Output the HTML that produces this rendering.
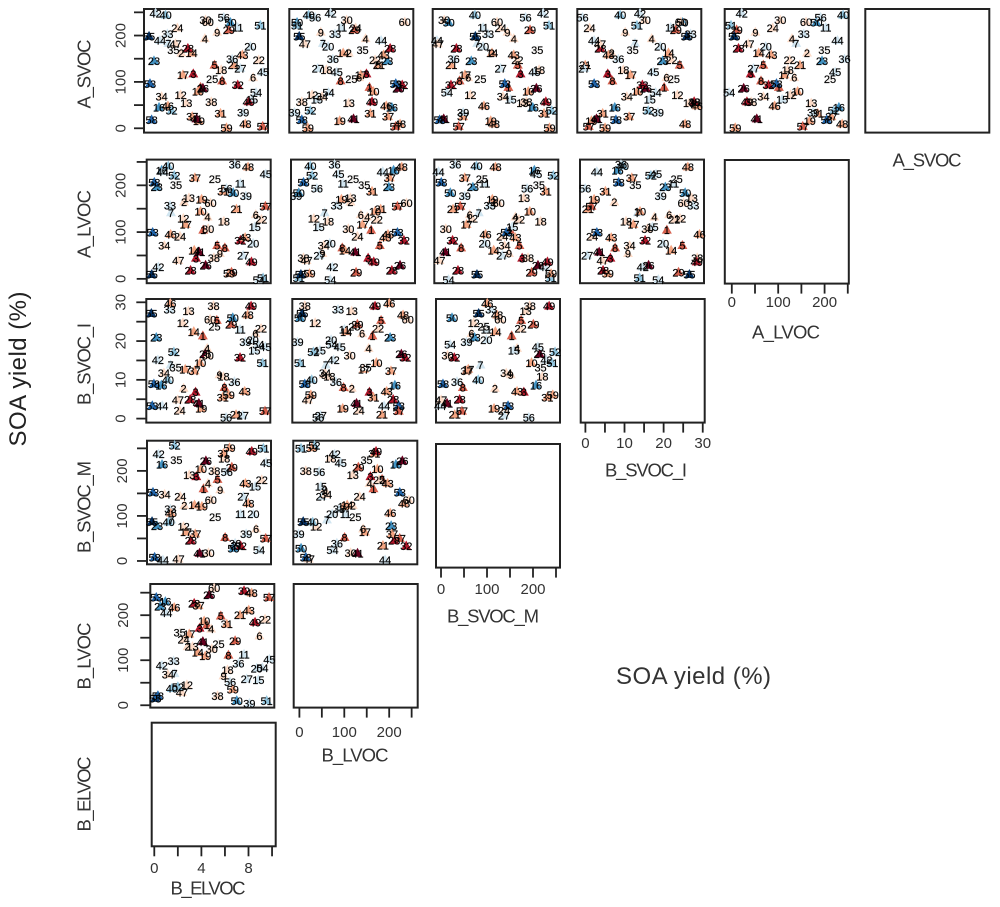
<!DOCTYPE html>
<html lang="en">
<head>
<meta charset="utf-8">
<title>SOA yield scatterplot matrix</title>
<style>
  html, body { margin: 0; padding: 0; background: #fff; width: 1000px; height: 907px; overflow: hidden; }
  svg { display: block; font-family: "Liberation Sans", sans-serif; }
</style>
</head>
<body>
<svg id="chart" xmlns="http://www.w3.org/2000/svg" width="1000" height="907" viewBox="0 0 1000 907">
  <text transform="translate(26,369) rotate(-90)" text-anchor="middle" font-size="24" fill="#222" textLength="155" lengthAdjust="spacing">SOA yield (%)</text>
  <text x="693.5" y="684" text-anchor="middle" font-size="24" fill="#333" textLength="155" lengthAdjust="spacing">SOA yield (%)</text>
</svg>
<script>
// Values, index 0 = point 1 ... index 59 = point 60
const pointIds = [1,2,3,4,5,6,7,8,9,10,11,12,13,14,15,16,17,18,19,20,21,22,23,24,25,26,27,28,29,30,31,32,33,34,35,36,37,38,39,40,41,42,43,44,45,46,47,48,49,50,51,52,53,54,55,56,57,58,59,60];
const A_SVOC = [88,162,117,193,136,109,183,102,207,79,217,72,54,162,62,45,115,126,16,176,136,147,145,216,106,86,129,172,212,233,32,93,203,68,169,149,25,57,34,244,20,248,158,189,121,48,182,9,57,228,222,38,96,77,198,239,4,18,1,229];
const A_LVOC = [104,164,44,132,71,137,141,66,54,144,204,129,173,61,111,232,116,123,170,76,149,127,196,91,213,29,50,18,14,107,187,82,157,71,201,244,216,45,177,241,57,25,88,229,224,95,39,239,36,184,2,221,99,-2,9,193,155,206,11,162];
const B_SVOC_I = [21.3,7.8,6.8,18.1,25.3,21.9,13.8,8.0,11.3,14.4,23.0,24.7,27.7,22.4,17.6,8.6,12.7,10.8,2.6,20.3,1.0,23.2,20.9,2.1,23.8,16.6,0.8,4.9,24.3,16.3,5.5,15.7,28.1,11.7,13.2,9.5,12.3,29.1,19.7,10.0,3.9,15.1,7.0,3.3,18.5,29.7,4.8,26.7,29.0,26.0,14.3,17.2,3.3,19.1,27.1,0.3,1.9,8.9,6.1,25.6];
const B_SVOC_M = [160,123,187,172,181,71,91,52,158,204,104,76,191,124,165,214,64,228,121,104,34,180,78,143,98,222,143,45,208,18,239,33,115,148,224,39,60,200,60,86,17,237,172,2,218,106,4,128,243,28,250,256,152,24,87,198,50,8,251,135];
const B_LVOC = [178,130,171,169,198,154,70,111,65,187,113,45,130,117,56,230,158,78,109,82,200,191,219,146,136,245,58,226,143,125,180,254,98,68,162,93,221,21,4,37,141,88,211,205,102,217,28,249,184,10,10,41,239,83,15,52,239,21,35,260];
const B_ELVOC = [4.59,2.95,3.97,4.96,5.78,9.07,1.84,6.43,6.01,4.36,7.76,2.89,3.37,3.82,8.98,1.05,3.09,6.35,4.45,8.84,7.42,9.55,0.62,2.61,5.58,4.79,7.99,3.51,7.0,5.01,6.29,7.76,1.76,1.27,2.27,7.28,3.88,5.5,8.22,1.61,4.25,0.76,8.16,1.13,9.92,1.81,2.46,8.41,8.7,7.14,9.69,2.12,0.28,9.32,0.2,6.57,9.89,0.42,6.8,5.21];
const soaYield = [17,13,19,13,17,13,9,17,13,15,9,13,13,15,9,5,15,13,15,9,15,13,5,13,11,21,9,19,17,13,15,19,9,13,11,9,15,13,8,7,21,9,15,9,8,15,13,15,19,5,6,7,3,9,1,8,17,3,15,13];

const yieldColors = ['#053061','#2166ac','#4393c3','#92c5de','#d1e5f0','#f3f1ef','#fddbc7','#f4a582','#d6604d','#b2182b','#67001f'];
const yieldBinWidth = 2;

const ticks250 = [0,50,100,150,200,250];
const tickLabels250 = [0,100,200];
const ticks30 = [0,5,10,15,20,25,30];
const tickLabels30 = [0,10,20,30];
const ticks10 = [0,2,4,6,8,10];
const tickLabels10 = [0,4,8];

const svgNS = 'http://www.w3.org/2000/svg';
const root = document.getElementById('chart');
const BOX_W = 124, BOX_H = 123.6;

// Axis definitions: value ranges that span a panel side
const axes = {
  A_SVOC:   {values:A_SVOC,   yDom:[-9.3,257.2], xDom:[-9.3,257.2], tickDom:[-9.3,257.2], ticks:ticks250, labels:tickLabels250},
  A_LVOC:   {values:A_LVOC,   yDom:[-9.3,255],   xDom:[-11.4,252.9], tickDom:[-15.1,252.2], ticks:ticks250, labels:tickLabels250},
  B_SVOC_I: {values:B_SVOC_I, yDom:[-1.03,30.85],xDom:[-1.03,30.85], tickDom:[-1.2,30.5], ticks:ticks30, labels:tickLabels30},
  B_SVOC_M: {values:B_SVOC_M, yDom:[-7.4,267],   xDom:[-7.4,267],   tickDom:[-10.9,258.7], ticks:ticks250, labels:tickLabels250},
  B_LVOC:   {values:B_LVOC,   yDom:[-5.2,269.3], xDom:[-8,279.7],   tickDom:[-12.7,263.5], ticks:ticks250, labels:tickLabels250},
  B_ELVOC:  {values:B_ELVOC,  yDom:[-0.23,10.34],xDom:[-0.23,10.34],tickDom:[-0.22,10.31], ticks:ticks10, labels:tickLabels10}
};

function scaleX(dom, left, v) { return left + (v - dom[0]) / (dom[1] - dom[0]) * BOX_W; }
function scaleY(dom, top, v) { return top + BOX_H - (v - dom[0]) / (dom[1] - dom[0]) * BOX_H; }
function yieldColor(v) {
  const i = Math.max(0, Math.min(yieldColors.length - 1, Math.floor(v / yieldBinWidth)));
  return yieldColors[i];
}

function make(tag, name, attrs, text) {
  const el = document.createElementNS(svgNS, tag);
  
  
  for (const k in attrs) el.setAttribute(k, attrs[k]);
  if (text !== undefined) el.textContent = text;
  root.appendChild(el);
  return el;
}

function box(left, top, name) {
  make('rect', name, {x:left, y:top, width:BOX_W, height:BOX_H, fill:'#fff', stroke:'#222', 'stroke-width':2});
}

function drawPanel(xVar, yVar, left, top) {
  const base = xVar + '-vs-' + yVar;
  box(left, top, 'panel-' + base);
  const xa = axes[xVar], ya = axes[yVar];
  pointIds.forEach(function (id, i) {
    const cx = scaleX(xa.xDom, left, xa.values[i]);
    const cy = scaleY(ya.yDom, top, ya.values[i]);
    const d = 'M' + cx + ' ' + (cy - 5.6) + 'L' + (cx + 5) + ' ' + (cy + 3.4) + 'L' + (cx - 5) + ' ' + (cy + 3.4) + 'Z';
    make('path', 'marker-' + id, {d:d, fill:yieldColor(soaYield[i])});
  });
  pointIds.forEach(function (id, i) {
    const cx = scaleX(xa.xDom, left, xa.values[i]);
    const cy = scaleY(ya.yDom, top, ya.values[i]);
    make('text', 'point-label-' + id, {x:cx, y:cy + 4, 'text-anchor':'middle', 'font-size':11, fill:'#000', stroke:'#000', 'stroke-width':0.15}, id);
  });
}

function drawYAxis(yVar, left, top, labelX) {
  const a = axes[yVar];
  a.ticks.forEach(function (t) {
    const y = scaleY(a.yDom, top, t);
    make('line', 'y-tick-' + yVar + '-' + t, {x1:left - 10, x2:left, y1:y, y2:y, stroke:'#222', 'stroke-width':1.8});
  });
  a.labels.forEach(function (t) {
    const y = scaleY(a.yDom, top, t);
    make('text', 'y-tick-label-' + yVar + '-' + t, {transform:'translate(' + (labelX + 5.5) + ',' + y + ') rotate(-90)', 'text-anchor':'middle', 'font-size':15, fill:'#333'}, t);
  });
}

function drawXAxis(xVar, left, top, labelBase) {
  const a = axes[xVar];
  const bottom = top + BOX_H;
  a.ticks.forEach(function (t) {
    const x = scaleX(a.tickDom, left, t);
    make('line', 'x-tick-' + xVar + '-' + t, {x1:x, x2:x, y1:bottom, y2:bottom + 10, stroke:'#222', 'stroke-width':1.8});
  });
  a.labels.forEach(function (t) {
    const x = scaleX(a.tickDom, left, t);
    make('text', 'x-tick-label-' + xVar + '-' + t, {x:x, y:labelBase, 'text-anchor':'middle', 'font-size':15, fill:'#333'}, t);
  });
}

function rowTitle(label, cy, len) {
  make('text', 'y-axis-title-' + label, {transform:'translate(90.5,' + cy + ') rotate(-90)', 'text-anchor':'middle', 'font-size':18.5, fill:'#333', textLength:len, lengthAdjust:'spacing'}, label);
}
function colTitle(label, cx, cy, len) {
  make('text', 'x-axis-title-' + label, {x:cx, y:cy + 6.5, 'text-anchor':'middle', 'font-size':18.5, fill:'#333', textLength:len, lengthAdjust:'spacing'}, label);
}

const colVars = ['B_ELVOC','B_LVOC','B_SVOC_M','B_SVOC_I','A_LVOC'];

// Row 1
[144,289.3,432.7,577.3,724.7].forEach(function (l, c) { drawPanel(colVars[c],'A_SVOC',l,9); });
box(865.3,9,'empty-panel-A_SVOC');
drawYAxis('A_SVOC',144,9,120);
rowTitle('A_SVOC',74,69);
colTitle('A_SVOC',927,160,69);

// Row 2
[146.7,291,434.3,580].forEach(function (l, c) { drawPanel(colVars[c],'A_LVOC',l,159.6); });
box(724.8,160,'empty-panel-A_LVOC');
drawYAxis('A_LVOC',146.7,159.6,120);
drawXAxis('A_LVOC',724.8,160,307);
rowTitle('A_LVOC',224,68);
colTitle('A_LVOC',786,332,68);

// Row 3
[146.3,292.3,436].forEach(function (l, c) { drawPanel(colVars[c],'B_SVOC_I',l,299); });
box(580.7,299,'empty-panel-B_SVOC_I');
drawYAxis('B_SVOC_I',146.3,299,120);
drawXAxis('B_SVOC_I',580.7,299,448);
rowTitle('B_SVOC_I',364,82);
colTitle('B_SVOC_I',646,470,82);

// Row 4
[147,293.3].forEach(function (l, c) { drawPanel(colVars[c],'B_SVOC_M',l,440.7); });
box(436,444,'empty-panel-B_SVOC_M');
drawYAxis('B_SVOC_M',147,440.7,121.7);
drawXAxis('B_SVOC_M',436,444,594);
rowTitle('B_SVOC_M',507,92);
colTitle('B_SVOC_M',493,616,92);

// Row 5
drawPanel('B_ELVOC','B_LVOC',150.3,584);
box(293.7,584,'empty-panel-B_LVOC');
drawYAxis('B_LVOC',150.3,584,122.7);
drawXAxis('B_LVOC',293.7,584,737);
rowTitle('B_LVOC',656,67);
colTitle('B_LVOC',355,755,67);

// Row 6
box(151.7,722.7,'empty-panel-B_ELVOC');
drawXAxis('B_ELVOC',151.7,722.7,873);
rowTitle('B_ELVOC',794,75);
colTitle('B_ELVOC',208,888,75);
</script>
</body>
</html>
